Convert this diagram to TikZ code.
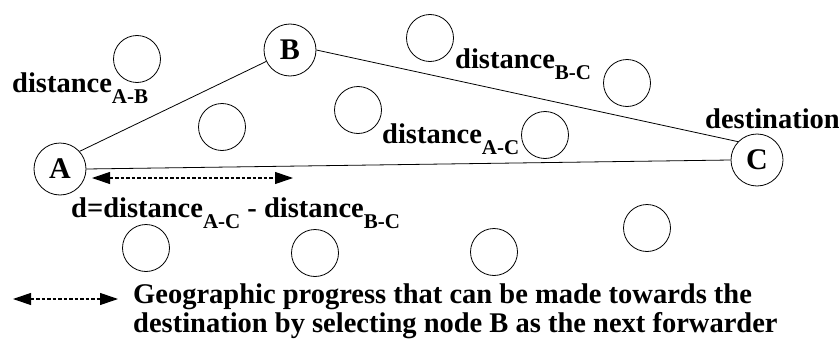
\documentclass[tikz,border=0pt]{standalone}
\usepackage{fontspec}
\setmainfont{Liberation Serif}
\usetikzlibrary{arrows.meta,positioning}

\newcommand{\lbl}{\fontsize{28.5}{29}\selectfont\bfseries}
\newcommand{\sbs}[1]{\raisebox{-11pt}{\fontsize{21}{21}\selectfont\bfseries #1}}

\begin{document}
\begin{tikzpicture}[x=1pt, y=-1pt,
  host/.style={circle, draw, line width=0.8pt, minimum size=52pt, inner sep=0pt,
               font=\fontsize{30}{30}\selectfont\bfseries},
  idle/.style={circle, draw, line width=0.8pt, minimum size=47pt, inner sep=0pt},
  txt/.style={anchor=base west, inner sep=0pt, font=\lbl},
  link/.style={line width=0.8pt},
  prog/.style={line width=1.1pt, dash pattern=on 3.5pt off 2pt,
               {Triangle[length=18pt,width=12pt]}-{Triangle[length=18pt,width=12pt]}}
]
  \useasboundingbox (0,0) rectangle (839,340);

  % source, forwarder, destination
  \node[host] (A) at (60,169) {A};
  \node[host] (B) at (290,50) {B};
  \node[host] (C) at (757,160) {C};

  % other nodes around
  \foreach \p [count=\i] in {(137,59),(222,127),(358,110),(430,38),(627,83),
                             (545,135),(146,248),(315,253),(494,252),(647,228)}
    \node[idle] (n\i) at \p {};

  \draw[link] (A.42) -- (B);
  \draw[link] (B.east) -- (C.136);
  \draw[link] (A.east) -- (C.west);

  % distance labels
  \node[txt] (dab) at (12,92) {distance\sbs{A-B}};
  \node[txt] (dbc) at (455,68) {distance\sbs{B-C}};
  \node[txt] (dac) at (382,143) {distance\sbs{A-C}};
  \node[txt] (dst) at (705,128) {destination};
  \node[txt] (dd) at (71,217) {d=distance\sbs{A-C} - distance\sbs{B-C}};

  % progress d
  \coordinate (p1) at (92,178);
  \coordinate (p2) at (293,178);
  \draw[prog] (p1) -- (p2);

  % legend
  \coordinate (q1) at (13,299);
  \coordinate (q2) at (118,299);
  \draw[prog] (q1) -- (q2);
  \node[txt, align=left] (leg) at (133,332) {Geographic progress that can be made towards the\\
    destination by selecting node B as the next forwarder};
\end{tikzpicture}
\end{document}
